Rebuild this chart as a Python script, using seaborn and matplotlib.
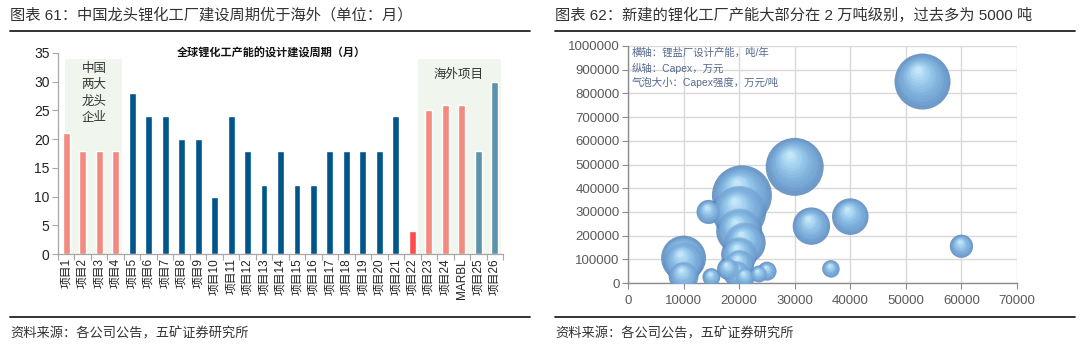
import numpy as np
import pandas as pd
import matplotlib
matplotlib.use("Agg")
import matplotlib.pyplot as plt
import matplotlib.transforms as mtransforms
from matplotlib.lines import Line2D
from matplotlib.colors import to_rgb
import seaborn as sns

# ---------------- data: left chart ----------------
projects = ["项目1", "项目2", "项目3", "项目4", "项目5", "项目6", "项目7", "项目8", "项目9",
            "项目10", "项目11", "项目12", "项目13", "项目14", "项目15", "项目16", "项目17",
            "项目18", "项目19", "项目20", "项目21", "项目22", "项目23", "项目24", "MARBL",
            "项目25", "项目26"]
months = [21, 18, 18, 18, 28, 24, 24, 20, 20, 10, 24, 18, 12, 18, 12, 12, 18, 18, 18, 18,
          24, 4, 25, 26, 26, 18, 30]
groups = (["china"] * 4 + ["other"] * 17 + ["p22"] + ["overseas_a"] * 3 + ["overseas_b"] * 2)

# ---------------- data: right chart ----------------
capacity = [20500, 30000, 53000, 20000, 10000, 20000, 10000, 21000, 33000, 40000, 20000,
            20000, 10000, 19500, 14500, 60000, 18000, 21000, 25000, 15000, 36500, 23500]
capex = [370000, 490000, 850000, 300000, 105000, 220000, 90000, 170000, 240000, 280000,
         120000, 80000, 30000, 40000, 300000, 155000, 60000, 25000, 50000, 25000, 60000, 38000]
intensity = [18.0, 16.8, 15.7, 14.6, 10.1, 10.6, 8.0, 8.8, 7.0, 6.7, 6.5, 4.5, 4.5, 3.4,
             2.9, 2.7, 2.4, 2.0, 1.8, 1.6, 1.5, 1.4]

# ---------------- style ----------------
sns.set_theme(style="white")
plt.rcParams["font.family"] = ["Liberation Sans", "Noto Sans CJK SC", "DejaVu Sans"]
plt.rcParams["axes.unicode_minus"] = False

fig = plt.figure(figsize=(10.8, 3.57), dpi=100)

# headers / footers
TXT = "#333333"
fig.text(10 / 1080, 1 - 15 / 357, "图表 61：中国龙头锂化工厂建设周期优于海外（单位：月）",
         fontsize=11, color=TXT, va="center", ha="left")
fig.text(555 / 1080, 1 - 15 / 357, "图表 62：新建的锂化工厂产能大部分在 2 万吨级别，过去多为 5000 吨",
         fontsize=11, color=TXT, va="center", ha="left")
for x0, x1 in [(10, 530), (555, 1075)]:
    fig.add_artist(Line2D([x0 / 1080, x1 / 1080], [1 - 31 / 357] * 2, color="#222222", lw=1.3))
    fig.add_artist(Line2D([x0 / 1080, x1 / 1080], [1 - 316.5 / 357] * 2, color="#222222", lw=1.3))
fig.text(10 / 1080, 1 - 334 / 357, "资料来源：各公司公告，五矿证券研究所", fontsize=9.5,
         color=TXT, va="center", ha="left")
fig.text(555 / 1080, 1 - 334 / 357, "资料来源：各公司公告，五矿证券研究所", fontsize=9.5,
         color=TXT, va="center", ha="left")

# ---------------- left: bar chart ----------------
ax1 = fig.add_axes([58 / 1080, 1 - 254 / 357, (503 - 58) / 1080, (254 - 53) / 357])
df = pd.DataFrame({"project": projects, "months": months, "group": groups})
palette = {"china": "#F28A80", "other": "#00558A", "p22": "#FF4B4B",
           "overseas_a": "#F28A80", "overseas_b": "#5B93AC"}
shade = "#F0F6EE"
ax1.axvspan(-0.05, 3.4, ymin=0, ymax=34 / 35, color=shade, zorder=0, lw=0)
ax1.axvspan(21.35, 26.4, ymin=0, ymax=34 / 35, color=shade, zorder=0, lw=0)
sns.barplot(data=df, x="project", y="months", hue="group", palette=palette, dodge=False,
            width=0.42, legend=False, ax=ax1, zorder=2, saturation=1)
ax1.set_xlim(-0.5, len(projects) - 0.5)
ax1.set_ylim(0, 35)
ax1.set_yticks(np.arange(0, 36, 5))
ax1.set_xlabel("")
ax1.set_ylabel("")
ax1.tick_params(axis="x", which="major", length=0, labelrotation=90, labelsize=8.5,
                colors="#222222", pad=3)
ax1.set_xticks(np.arange(-0.5, len(projects), 1), minor=True)
ax1.tick_params(axis="x", which="minor", length=4, color="#A6A6A6", width=0.8, bottom=True)
ax1.tick_params(axis="y", length=4, color="#A6A6A6", width=0.8, labelsize=10,
                colors="#222222", left=True, pad=2)
for lab in ax1.get_xticklabels():
    lab.set_rotation(90)
for s in ["top", "right"]:
    ax1.spines[s].set_visible(False)
for s in ["left", "bottom"]:
    ax1.spines[s].set_color("#A6A6A6")
    ax1.spines[s].set_linewidth(0.9)
ax1.set_facecolor("white")
ax1.text(0.48, 1.0, "全球锂化工产能的设计建设周期（月）", transform=ax1.transAxes,
         ha="center", va="center", fontsize=8, fontweight="bold", color="#111111")
ax1.text(1.68, 33.2, "中国\n两大\n龙头\n企业", ha="center", va="top", fontsize=9,
         color="#333333", linespacing=1.45)
ax1.text(23.8, 31.2, "海外项目", ha="center", va="center", fontsize=9, color="#333333")

# ---------------- right: bubble chart ----------------
ax2 = fig.add_axes([628 / 1080, 1 - 283 / 357, (1017 - 628) / 1080, (283 - 46) / 357])
bdf = pd.DataFrame({"capacity": capacity, "capex": capex, "intensity": intensity})
k = 103.7  # points^2 per unit of intensity
vmin, vmax = min(intensity), max(intensity)
base_col = "#4F80B4"
sns.scatterplot(data=bdf, x="capacity", y="capex", size="intensity",
                sizes=(k * vmin, k * vmax), size_norm=(vmin, vmax), color=base_col,
                alpha=0.8, linewidth=0, legend=False, ax=ax2, zorder=3)

c0 = np.array(to_rgb("#6C9DD0"))
c1 = np.array(to_rgb("#A9DAF6"))
c2 = np.array(to_rgb("#E2F8FF"))
n_layers = 12
for i, (xv, yv, v) in enumerate(zip(capacity, capex, intensity)):
    s = k * v
    r_pt = np.sqrt(s) / 2
    for j in range(n_layers):
        t = j / (n_layers - 1)
        f = 0.95 - 0.83 * t
        if t < 0.6:
            col = c0 * (1 - t / 0.6) + c1 * (t / 0.6)
        else:
            tt = (t - 0.6) / 0.4
            col = c1 * (1 - tt) + c2 * tt
        alpha = 0.55 if j < 3 else 0.3
        tr = mtransforms.offset_copy(ax2.transData, fig=fig,
                                     x=-0.2 * (1 - f) * r_pt, y=0.45 * (1 - f) * r_pt,
                                     units="points")
        ax2.scatter([xv], [yv], s=s * f * f, color=col, alpha=alpha, linewidths=0,
                    transform=tr, zorder=4 + i * 0.01)

ax2.set_xlim(0, 70000)
ax2.set_ylim(0, 1000000)
ax2.set_xticks(np.arange(0, 70001, 10000))
ax2.set_yticks(np.arange(0, 1000001, 100000))
ax2.set_xticklabels([f"{v:d}" for v in range(0, 70001, 10000)])
ax2.set_yticklabels([f"{v:d}" for v in range(0, 1000001, 100000)])
ax2.set_xlabel("")
ax2.set_ylabel("")
ax2.grid(True, color="#D9D9D9", lw=1.0, zorder=0)
ax2.set_axisbelow(True)
for s in ["top", "right"]:
    ax2.spines[s].set_visible(False)
for s in ["left", "bottom"]:
    ax2.spines[s].set_color("#8C8C8C")
    ax2.spines[s].set_linewidth(1.0)
ax2.tick_params(axis="both", length=4, color="#8C8C8C", width=0.8, colors="#595959",
                left=True, bottom=True)
ax2.tick_params(axis="y", labelsize=9.5, pad=2)
ax2.tick_params(axis="x", labelsize=9.5, pad=5)
leg_col = "#55698E"
ax2.text(0.009, 0.972, "横轴：锂盐厂设计产能，吨/年", transform=ax2.transAxes, fontsize=7.5,
         color=leg_col, va="center", ha="left", zorder=10)
ax2.text(0.009, 0.907, "纵轴：Capex，万元", transform=ax2.transAxes, fontsize=7.5,
         color=leg_col, va="center", ha="left", zorder=10)
ax2.text(0.009, 0.845, "气泡大小：Capex强度，万元/吨", transform=ax2.transAxes, fontsize=7.5,
         color=leg_col, va="center", ha="left", zorder=10)

fig.savefig("out.png", dpi=100, facecolor="white")
